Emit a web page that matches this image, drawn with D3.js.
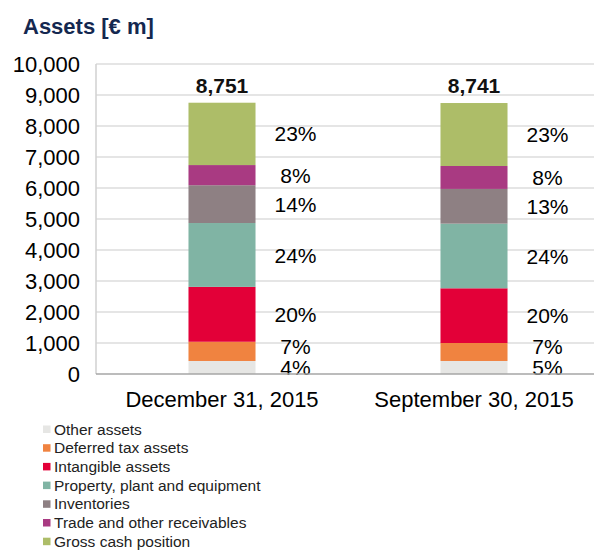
<!DOCTYPE html>
<html>
<head>
<meta charset="utf-8">
<script src="https://cdn.jsdelivr.net/npm/d3@7"></script>
<style>
  body { margin: 0; background: #fff; }
  text { font-family: "Liberation Sans", Arial, sans-serif; }
</style>
</head>
<body>
<div class="canvas"></div>
<script>
const categories = ["December 31, 2015", "September 30, 2015"];
const seriesNames = [
  "Other assets",
  "Deferred tax assets",
  "Intangible assets",
  "Property, plant and equipment",
  "Inventories",
  "Trade and other receivables",
  "Gross cash position"
];
const seriesColors = ["#e6e6e4", "#f08340", "#e30038", "#80b4a4", "#8e8083", "#a93a82", "#adbd68"];
// values in € m, bottom to top
const dec2015 = [420, 620, 1770, 2060, 1220, 650, 2011];
const sep2015 = [420, 580, 1765, 2085, 1120, 740, 2031];
const totals = ["8,751", "8,741"];
const pctDec = ["4%", "7%", "20%", "24%", "14%", "8%", "23%"];
const pctSep = ["5%", "7%", "20%", "24%", "13%", "8%", "23%"];
const yTicks = [0, 1000, 2000, 3000, 4000, 5000, 6000, 7000, 8000, 9000, 10000];

const width = 594;
const height = 550;

const svg = d3
  .select(".canvas")
  .append("svg")
  .attr("width", width)
  .attr("height", height);

const plotLeft = 96;
const plotTop = 64;
const plotBottom = 374;

const yScale = d3.scaleLinear().domain([0, 10000]).range([plotBottom, plotTop]);
const xScale = d3
  .scaleBand()
  .domain(categories)
  .range([plotLeft, 600])
  .paddingInner(0.734)
  .paddingOuter(0.367);

// title
svg
  .append("text")
  .attr("x", 23)
  .attr("y", 34)
  .attr("font-size", 22)
  .attr("font-weight", "bold")
  .attr("fill", "#142850")
  .text("Assets [€ m]");

// gridlines
svg
  .append("g")
  .selectAll("line")
  .data(yTicks.filter((d) => d > 0))
  .enter()
  .append("line")
  .attr("x1", plotLeft)
  .attr("x2", width)
  .attr("y1", (d) => yScale(d))
  .attr("y2", (d) => yScale(d))
  .attr("stroke", "#dcdcdc")
  .attr("stroke-width", 1.5);

// left border
svg
  .append("line")
  .attr("x1", plotLeft)
  .attr("x2", plotLeft)
  .attr("y1", plotTop)
  .attr("y2", plotBottom)
  .attr("stroke", "#d0d0d0")
  .attr("stroke-width", 1.5);

// y labels
svg
  .append("g")
  .selectAll("text")
  .data(yTicks)
  .enter()
  .append("text")
  .attr("x", 80)
  .attr("y", (d) => yScale(d))
  .attr("dy", "0.36em")
  .attr("text-anchor", "end")
  .attr("font-size", 22)
  .attr("fill", "#000")
  .text((d) => d3.format(",")(d));

// stacked bars
const barData = [dec2015, sep2015];
const pctData = [pctDec, pctSep];
const minGap = 21; // keep small labels from sitting on top of each other

barData.forEach((vals, i) => {
  const cat = categories[i];
  const x0 = xScale(cat);
  const bw = xScale.bandwidth();
  let cum = 0;
  let lastY = null;
  const g = svg.append("g");
  vals.forEach((v, j) => {
    const y0 = yScale(cum);
    const y1 = yScale(cum + v);
    g.append("rect")
      .attr("x", x0)
      .attr("y", y1)
      .attr("width", bw)
      .attr("height", y0 - y1)
      .attr("fill", seriesColors[j]);
    let ly = (y0 + y1) / 2;
    if (lastY !== null && ly > lastY - minGap) ly = lastY - minGap;
    lastY = ly;
    g.append("text")
      .attr("x", x0 + bw + 40)
      .attr("y", ly)
      .attr("dy", "0.36em")
      .attr("text-anchor", "middle")
      .attr("font-size", 21)
      .attr("fill", "#000")
      .text(pctData[i][j]);
    cum += v;
  });
  g.append("text")
    .attr("x", x0 + bw / 2)
    .attr("y", yScale(cum) - 10)
    .attr("text-anchor", "middle")
    .attr("font-size", 21)
    .attr("font-weight", "bold")
    .attr("fill", "#111")
    .text(totals[i]);
});

// bottom axis
svg
  .append("line")
  .attr("x1", plotLeft)
  .attr("x2", width)
  .attr("y1", plotBottom)
  .attr("y2", plotBottom)
  .attr("stroke", "#a6a6a6")
  .attr("stroke-width", 1.5);

// x labels
svg
  .append("g")
  .selectAll("text")
  .data(categories)
  .enter()
  .append("text")
  .attr("x", (d) => xScale(d) + xScale.bandwidth() / 2)
  .attr("y", 407)
  .attr("text-anchor", "middle")
  .attr("font-size", 22)
  .attr("fill", "#000")
  .text((d) => d);

// legend
const legend = svg
  .append("g")
  .selectAll("g")
  .data(seriesNames)
  .enter()
  .append("g")
  .attr("transform", (d, i) => "translate(43," + (429 + i * 18.7) + ")");

legend
  .append("rect")
  .attr("x", 0)
  .attr("y", -3.5)
  .attr("width", 7.5)
  .attr("height", 7.5)
  .attr("fill", (d, i) => seriesColors[i]);

legend
  .append("text")
  .attr("x", 11)
  .attr("y", 0)
  .attr("dy", "0.36em")
  .attr("font-size", 15.5)
  .attr("fill", "#222")
  .text((d) => d);
</script>
</body>
</html>
